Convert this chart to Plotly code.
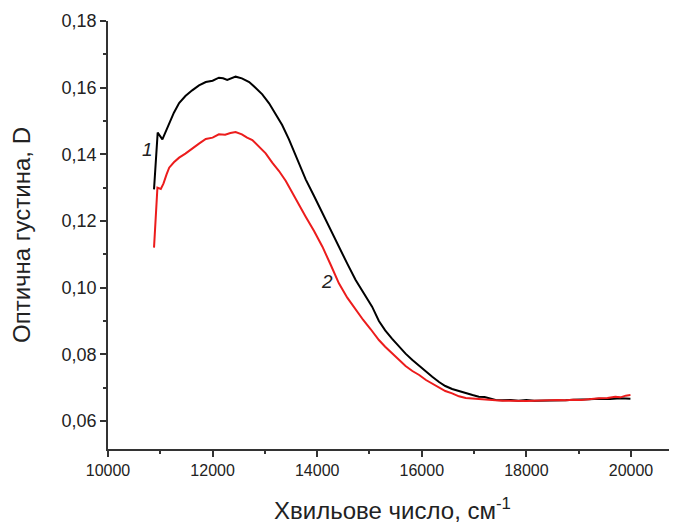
import plotly.graph_objects as go

# 데이터
wn_1 = [10880, 10950, 11040, 11100, 11170, 11260, 11360, 11480, 11610, 11740,
        11870, 12000, 12120, 12200, 12280, 12360, 12440, 12560, 12700, 12820,
        12950, 13080, 13200, 13330, 13460, 13620, 13780, 13940, 14100, 14260,
        14415, 14575, 14735, 14890, 15050, 15180, 15300, 15430, 15560, 15690,
        15820, 15950, 16080, 16200, 16330, 16450, 16580, 16710, 16840, 16970,
        17090, 17200, 17300, 17410, 17540, 17700, 17850, 18000, 18150, 18300,
        18450, 18600, 18750, 18900, 19050, 19200, 19390, 19600, 19800, 19990]
d_1 = [0.1295, 0.1465, 0.1445, 0.1468, 0.1490, 0.1525, 0.1554, 0.1575, 0.1592, 0.1607,
       0.1617, 0.1621, 0.1630, 0.1628, 0.1623, 0.1629, 0.1633, 0.1628, 0.1617, 0.1600,
       0.1580, 0.1553, 0.1523, 0.1488, 0.1445, 0.1385, 0.1325, 0.1275, 0.1223, 0.1172,
       0.1123, 0.1072, 0.1023, 0.0982, 0.0943, 0.0900, 0.0872, 0.0847, 0.0823, 0.0802,
       0.0783, 0.0765, 0.0748, 0.0733, 0.0717, 0.0705, 0.0696, 0.0689, 0.0684, 0.0678,
       0.0673, 0.0672, 0.0668, 0.0663, 0.0662, 0.0663, 0.0661, 0.0663, 0.0661, 0.0661,
       0.0663, 0.0662, 0.0662, 0.0664, 0.0664, 0.0665, 0.0667, 0.0666, 0.0668, 0.0667]

wn_2 = [10880, 10945, 11010, 11060, 11120, 11170, 11260, 11360, 11480, 11610,
        11740, 11870, 12000, 12120, 12240, 12340, 12440, 12560, 12660, 12760,
        12880, 13015, 13140, 13270, 13400, 13520, 13650, 13780, 13940, 14100,
        14260, 14415, 14575, 14735, 14880, 15020, 15180, 15300, 15430, 15560,
        15690, 15820, 15950, 16080, 16200, 16330, 16450, 16580, 16710, 16840,
        16970, 17090, 17250, 17410, 17550, 17700, 17850, 18000, 18150, 18300,
        18450, 18600, 18750, 18900, 19050, 19200, 19390, 19550, 19700, 19800,
        19900, 19990]
d_2 = [0.1120, 0.1300, 0.1296, 0.1312, 0.1340, 0.1360, 0.1376, 0.1390, 0.1402, 0.1418,
       0.1432, 0.1446, 0.1450, 0.1460, 0.1459, 0.1464, 0.1467, 0.1460, 0.1450, 0.1443,
       0.1425, 0.1403, 0.1375, 0.1350, 0.1320, 0.1285, 0.1250, 0.1213, 0.1170, 0.1123,
       0.1068, 0.1013, 0.0970, 0.0933, 0.0903, 0.0876, 0.0843, 0.0823, 0.0803, 0.0783,
       0.0765, 0.0750, 0.0738, 0.0723, 0.0712, 0.0699, 0.0690, 0.0683, 0.0674, 0.0669,
       0.0667, 0.0665, 0.0663, 0.0662, 0.0661, 0.0660, 0.0661, 0.0660, 0.0661, 0.0662,
       0.0661, 0.0663, 0.0662, 0.0664, 0.0663, 0.0666, 0.0668, 0.0669, 0.0673, 0.0671,
       0.0676, 0.0678]

y_tickvals = [0.06, 0.08, 0.10, 0.12, 0.14, 0.16, 0.18]
y_ticktext = ["0,06", "0,08", "0,10", "0,12", "0,14", "0,16", "0,18"]
x_tickvals = [10000, 12000, 14000, 16000, 18000, 20000]
x_ticktext = ["10000", "12000", "14000", "16000", "18000", "20000"]

FONT = "Liberation Sans, Arial, sans-serif"

fig = go.Figure()

fig.add_trace(go.Scatter(x=wn_1, y=d_1, mode="lines",
                         line=dict(color="black", width=2), name="1"))
fig.add_trace(go.Scatter(x=wn_2, y=d_2, mode="lines",
                         line=dict(color="#ec1c1c", width=2), name="2"))

# 곡선 번호
fig.add_annotation(x=10747, y=0.1414, text="<i>1</i>", showarrow=False,
                   font=dict(family=FONT, size=19, color="#222"))
fig.add_annotation(x=14192, y=0.1018, text="<i>2</i>", showarrow=False,
                   font=dict(family=FONT, size=19, color="#222"))

# body 기본 여백(8px) 보정
fig.update_layout(width=669, height=516,
                  margin=dict(l=100, r=0, t=13, b=75),
                  paper_bgcolor="white",
                  plot_bgcolor="white",
                  showlegend=False,
                  font=dict(family=FONT, size=16, color="#222"))

fig.update_xaxes(range=[10000, 20880],
                 tickvals=x_tickvals, ticktext=x_ticktext,
                 ticks="outside", ticklen=6, tickwidth=1.5, tickcolor="#333",
                 minor=dict(ticks="outside", dtick=1000, tick0=10000, ticklen=3,
                            tickwidth=1.5, tickcolor="#333"),
                 showline=True, linewidth=1.5, linecolor="#333",
                 showgrid=False, zeroline=False, automargin=False,
                 tickfont=dict(size=16),
                 title=dict(text="Хвильове число, см<sup>-1</sup>",
                            font=dict(size=24), standoff=28))

fig.update_yaxes(range=[0.0516, 0.18],
                 tickvals=y_tickvals, ticktext=y_ticktext,
                 ticks="outside", ticklen=6, tickwidth=1.5, tickcolor="#333",
                 minor=dict(ticks="outside", dtick=0.01, tick0=0.06, ticklen=3,
                            tickwidth=1.5, tickcolor="#333"),
                 showline=True, linewidth=1.5, linecolor="#333",
                 showgrid=False, zeroline=False, automargin=False,
                 tickfont=dict(size=18),
                 title=dict(text="Оптична густина, D",
                            font=dict(size=24), standoff=26))

fig.write_html("out.html")
